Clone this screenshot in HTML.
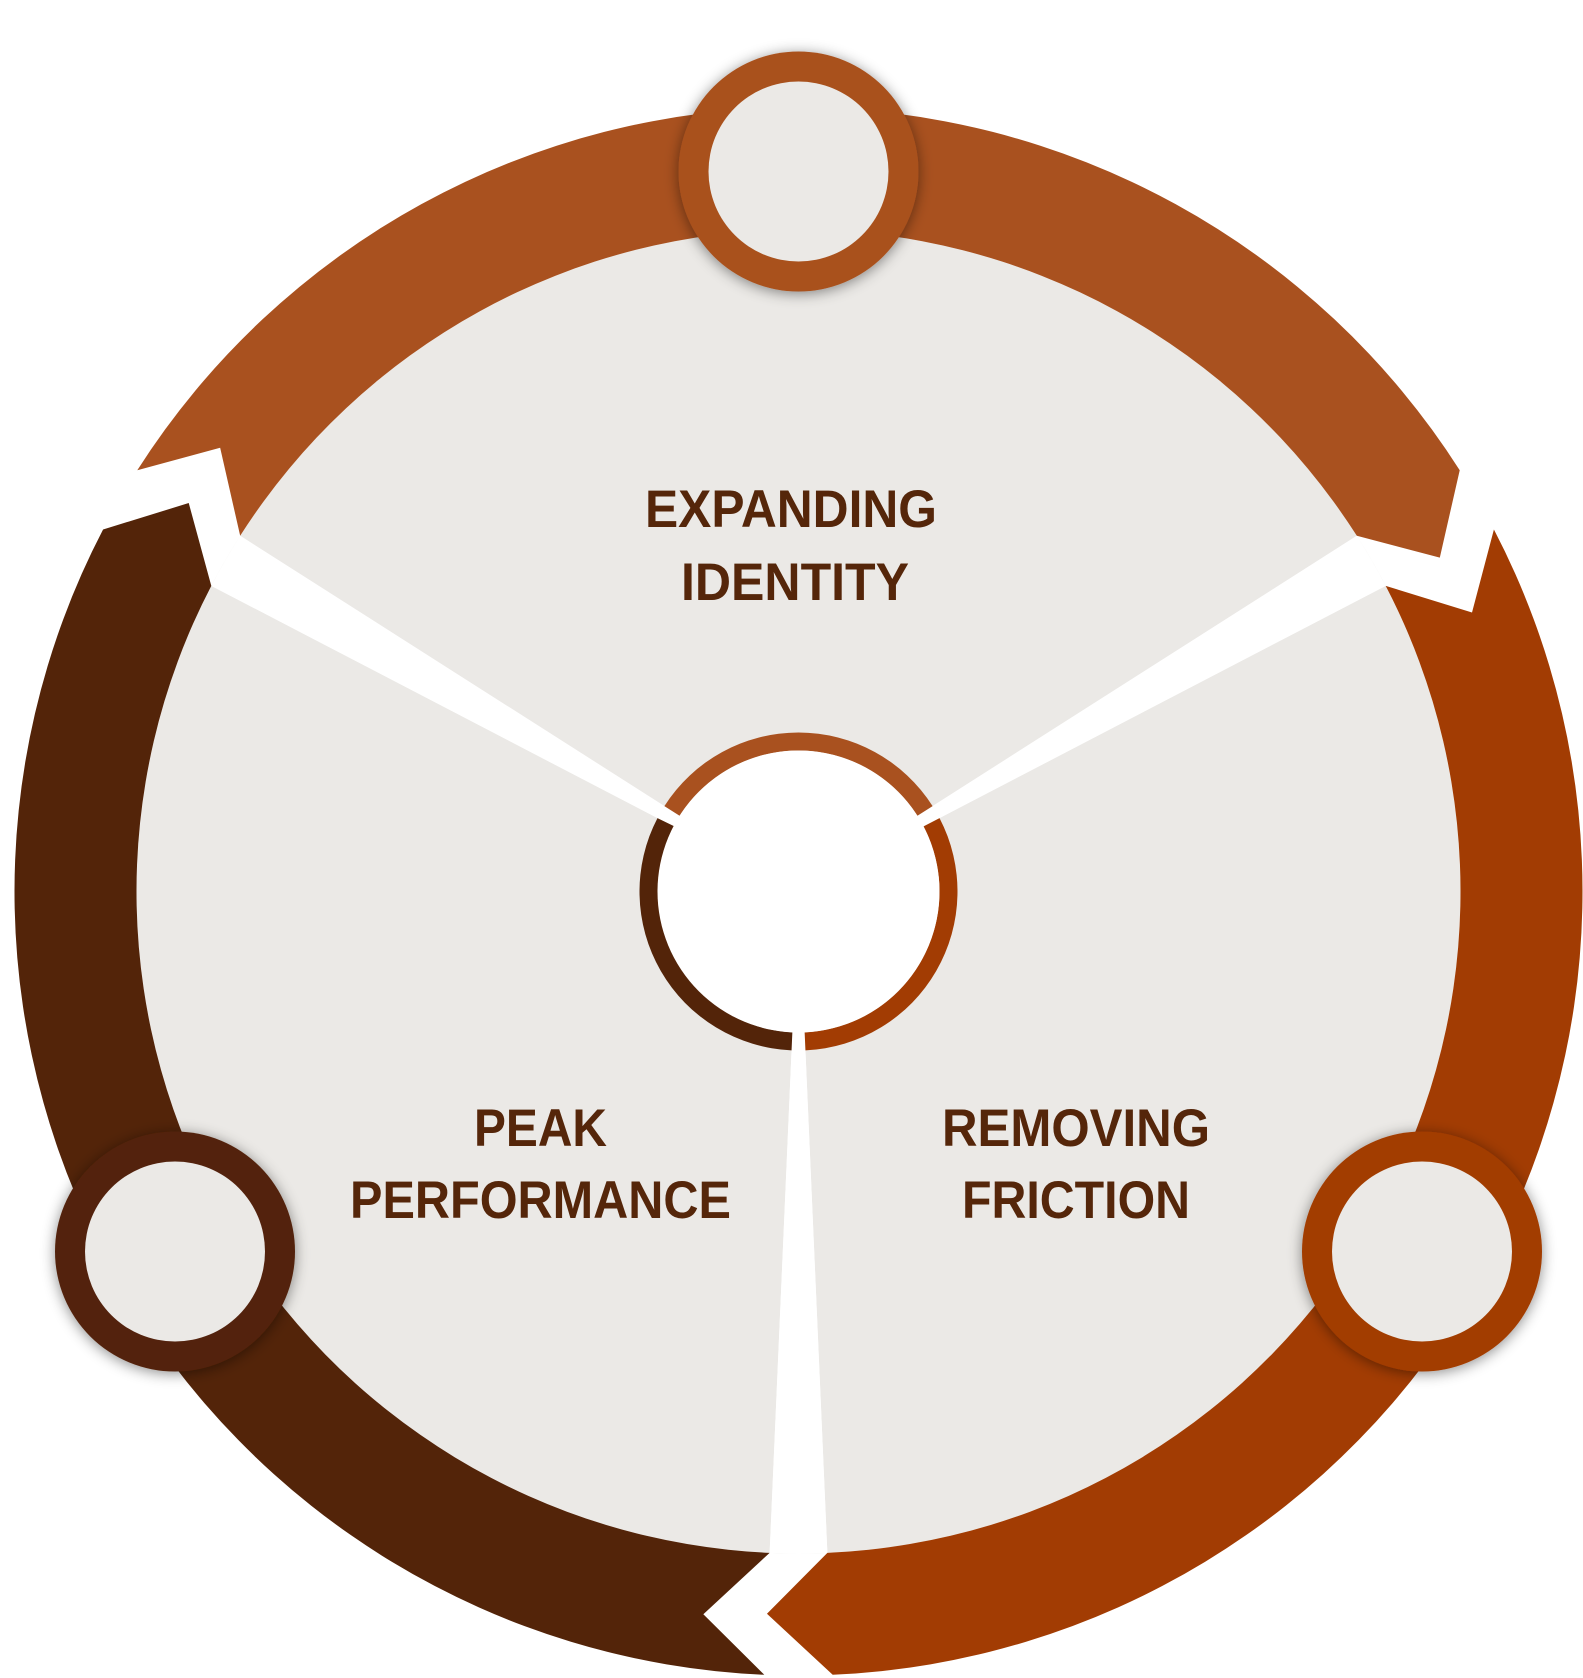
<!DOCTYPE html>
<html>
<head>
<meta charset="utf-8">
<style>
  html, body { margin:0; padding:0; background:#ffffff; }
  svg { display:block; }
  .t { font-family: "Liberation Sans", Arial, sans-serif; font-weight:700; font-size:53px; fill:#55260A; }
</style>
</head>
<body>
<svg width="1583" height="1678" viewBox="0 0 1583 1678" xmlns="http://www.w3.org/2000/svg">
  <defs>
    <filter id="sh" x="-30%" y="-30%" width="160%" height="160%">
      <feDropShadow dx="0" dy="2" stdDeviation="7" flood-color="#000" flood-opacity="0.45"/>
    </filter>
  </defs>
  <rect width="1583" height="1678" fill="#ffffff"/>

  <!-- light gray disc -->
  <circle cx="798.5" cy="891.5" r="662" fill="#EBE9E6"/>

  <!-- white gap sectors -->
  <path d="M798.5,891.5 L240.18,535.81 L211.30,585.82 Z" fill="#ffffff"/>
  <path d="M798.5,891.5 L1356.82,535.81 L1385.70,585.82 Z" fill="#ffffff"/>
  <path d="M798.5,891.5 L827.38,1552.87 L769.62,1552.87 Z" fill="#ffffff"/>
  <!-- arc fill-ins for sector ends -->
  <path d="M798.5,891.5 L240.18,535.81 A662,662 0 0 0 211.30,585.82 Z" fill="#ffffff"/>
  <path d="M798.5,891.5 L1356.82,535.81 A662,662 0 0 1 1385.70,585.82 Z" fill="#ffffff"/>
  <path d="M798.5,891.5 L827.38,1552.87 A662,662 0 0 1 769.62,1552.87 Z" fill="#ffffff"/>

  <!-- band segments -->
  <!-- top -->
  <path d="M137.28,470.26 A784,784 0 0 1 1459.72,470.26 L1439.81,557.65 L1356.82,535.81 A662,662 0 0 0 240.18,535.81 L220.15,447.71 Z" fill="#A9511F"/>
  <!-- right -->
  <path d="M1493.92,529.49 A784,784 0 0 1 832.70,1674.75 L766.96,1613.81 L827.38,1552.87 A662,662 0 0 0 1385.70,585.82 L1472.01,612.53 Z" fill="#A23C03"/>
  <!-- left -->
  <path d="M764.30,1674.75 A784,784 0 0 1 103.08,529.49 L188.73,503.03 L211.30,585.82 A662,662 0 0 0 769.62,1552.87 L703.34,1614.26 Z" fill="#532409"/>

  <!-- center ring -->
  <path d="M664.40,806.07 A159,159 0 0 1 932.60,806.07 L917.42,815.74 A141,141 0 0 0 679.58,815.74 Z" fill="#A9511F"/>
  <path d="M939.53,818.08 A159,159 0 0 1 805.44,1050.35 L804.65,1032.37 A141,141 0 0 0 923.57,826.39 Z" fill="#A23C03"/>
  <path d="M791.56,1050.35 A159,159 0 0 1 657.47,818.08 L674.43,826.39 A141,141 0 0 0 792.35,1032.37 Z" fill="#532409"/>
  <circle cx="798.5" cy="891.5" r="141" fill="#ffffff"/>

  <!-- badge circles -->
  <g filter="url(#sh)">
    <circle cx="798.5" cy="171.5" r="120" fill="#A9511F"/>
  </g>
  <circle cx="798.5" cy="171.5" r="90" fill="#EBE9E6"/>

  <g filter="url(#sh)">
    <circle cx="175" cy="1251.5" r="120" fill="#532409"/>
  </g>
  <circle cx="175" cy="1251.5" r="90" fill="#EBE9E6"/>

  <g filter="url(#sh)">
    <circle cx="1422" cy="1251.5" r="120" fill="#A23C03"/>
  </g>
  <circle cx="1422" cy="1251.5" r="90" fill="#EBE9E6"/>

  <!-- labels -->
  <text class="t" x="645" y="527" textLength="292" lengthAdjust="spacingAndGlyphs">EXPANDING</text>
  <text class="t" x="681" y="600" textLength="228" lengthAdjust="spacingAndGlyphs">IDENTITY</text>
  <text class="t" x="474" y="1146" textLength="133" lengthAdjust="spacingAndGlyphs">PEAK</text>
  <text class="t" x="350" y="1218" textLength="381" lengthAdjust="spacingAndGlyphs">PERFORMANCE</text>
  <text class="t" x="942" y="1146" textLength="268" lengthAdjust="spacingAndGlyphs">REMOVING</text>
  <text class="t" x="962" y="1218" textLength="228" lengthAdjust="spacingAndGlyphs">FRICTION</text>
</svg>
</body>
</html>
